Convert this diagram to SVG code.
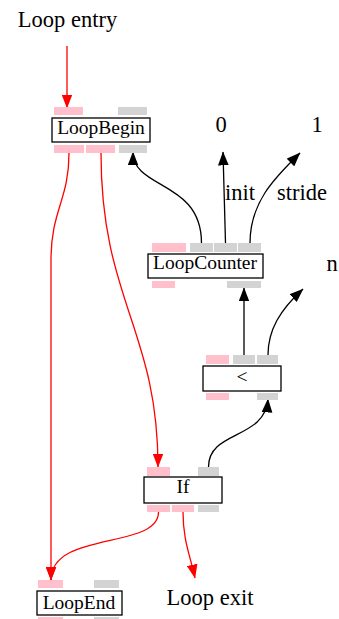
<svg xmlns="http://www.w3.org/2000/svg" width="339" height="619" viewBox="0 0 339 619">
<style>
text{font-family:"Liberation Serif","Times New Roman",serif;fill:#000}
.lbl{font-size:22.5px}
.nl{font-size:19.5px;text-anchor:middle}
.box{fill:#fff;stroke:#000;stroke-width:1.3}
.pp{fill:#ffc0cb}
.gp{fill:#d3d3d3}
.re{fill:none;stroke:#ff0000;stroke-width:1.3}
.be{fill:none;stroke:#000;stroke-width:1.3}
</style>
<defs>
<marker id="ar" markerUnits="userSpaceOnUse" markerWidth="14" markerHeight="11" viewBox="0 0 13 10" refX="12.5" refY="5" orient="auto"><path d="M0,0 L13,5 L0,10 z" fill="#ff0000"/></marker>
<marker id="ab" markerUnits="userSpaceOnUse" markerWidth="14" markerHeight="11" viewBox="0 0 13 10" refX="12.5" refY="5" orient="auto"><path d="M0,0 L13,5 L0,10 z" fill="#000"/></marker>
</defs>
<g id="labels">
<text class="lbl" x="67.5" y="27" text-anchor="middle">Loop entry</text>
<text class="lbl" x="221" y="132" text-anchor="middle">0</text>
<text class="lbl" x="317" y="132" text-anchor="middle">1</text>
<text class="lbl" x="332" y="271" text-anchor="middle">n</text>
<text class="lbl" x="210" y="605" text-anchor="middle">Loop exit</text>
</g>
<g id="connectors">
<path class="re" d="M67,46 L67,108" marker-end="url(#ar)"/>
<path class="re" d="M69,153 C69,200 51,210 51,260 L51,580" marker-end="url(#ar)"/>
<path class="re" d="M101,153 C101,300 158,330 158,467" marker-end="url(#ar)"/>
<path class="be" d="M201.5,243 C201.5,180 133,190 133,152" marker-end="url(#ab)"/>
<path class="be" d="M225.5,243 L223,152" marker-end="url(#ab)"/>
<path class="be" d="M250,243 C250,200 278,175 300,153" marker-end="url(#ab)"/>
<path class="be" d="M244,355 L244,288" marker-end="url(#ab)"/>
<path class="be" d="M268,355 C268,330 280,310 303,289" marker-end="url(#ab)"/>
<path class="be" d="M208.5,467 C208.5,430 265,440 268,399" marker-end="url(#ab)"/>
<path class="re" d="M158.5,512 C158.5,550 51,530 51,580" marker-end="url(#ar)"/>
<path class="re" d="M183,512 C183,540 190,555 195,578" marker-end="url(#ar)"/>
<text class="lbl" x="225" y="200">init</text>
<text class="lbl" x="277" y="200">stride</text>
</g>
<g id="LoopBegin">
<rect class="pp" x="54" y="107" width="29" height="8"/>
<rect class="gp" x="118" y="107" width="29" height="8"/>
<rect class="box" x="52" y="118" width="98" height="24"/>
<text class="nl" x="101" y="134">LoopBegin</text>
<rect class="pp" x="54" y="145" width="30" height="8"/>
<rect class="pp" x="86" y="145" width="29" height="8"/>
<rect class="gp" x="119" y="145" width="28" height="8"/>
</g>
<g id="LoopCounter">
<rect class="pp" x="152" y="243" width="34" height="9"/>
<rect class="gp" x="190" y="243" width="23" height="9"/>
<rect class="gp" x="214" y="243" width="23" height="9"/>
<rect class="gp" x="238" y="243" width="23" height="9"/>
<rect class="box" x="148" y="254" width="115" height="24"/>
<text class="nl" x="205" y="269">LoopCounter</text>
<rect class="pp" x="152" y="281" width="23" height="7"/>
<rect class="gp" x="227" y="281" width="34" height="7"/>
</g>
<g id="LessThan">
<rect class="pp" x="206" y="355" width="23" height="9"/>
<rect class="gp" x="233" y="355" width="22" height="9"/>
<rect class="gp" x="257" y="355" width="21" height="9"/>
<rect class="box" x="203" y="366" width="78" height="25"/>
<text class="nl" x="242" y="383">&lt;</text>
<rect class="pp" x="206" y="393" width="23" height="7"/>
<rect class="gp" x="257" y="393" width="21" height="7"/>
</g>
<g id="If">
<rect class="pp" x="147" y="467" width="23" height="9"/>
<rect class="gp" x="198" y="467" width="21" height="9"/>
<rect class="box" x="144" y="477" width="78" height="26"/>
<text class="nl" x="183" y="493">If</text>
<rect class="pp" x="147" y="505" width="23" height="7"/>
<rect class="pp" x="172" y="505" width="22" height="7"/>
<rect class="gp" x="198" y="505" width="21" height="7"/>
</g>
<g id="LoopEnd">
<rect class="pp" x="38" y="580" width="25" height="8"/>
<rect class="gp" x="94" y="580" width="25" height="8"/>
<rect class="box" x="37" y="591" width="85" height="24"/>
<text class="nl" x="79" y="609">LoopEnd</text>
<rect class="pp" x="38" y="617" width="25" height="3"/>
<rect class="gp" x="94" y="617" width="25" height="3"/>
</g>
</svg>
